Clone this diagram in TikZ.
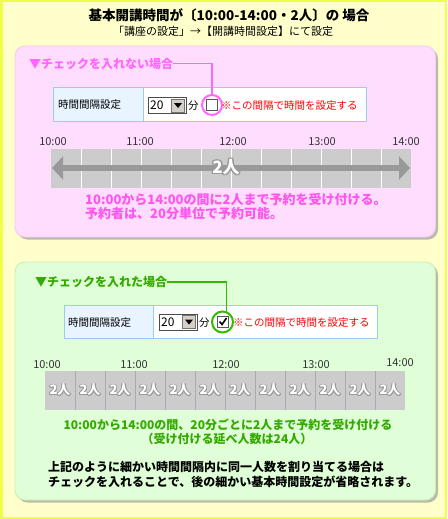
\documentclass[tikz,border=0pt]{standalone}
\usepackage{fontspec}
\setmainfont{Noto Sans CJK JP}
\usetikzlibrary{arrows.meta}
\definecolor{bgy}{HTML}{FFFFCC}
\definecolor{bdy}{HTML}{EEFF44}
\definecolor{pinkfill}{HTML}{FFDDFF}
\definecolor{pinkedge}{HTML}{F4C8F4}
\definecolor{pinkline}{HTML}{FF66FF}
\definecolor{pinktext}{HTML}{FF55EE}
\definecolor{greenfill}{HTML}{E0FFD8}
\definecolor{greenedge}{HTML}{C8EEB8}
\definecolor{greenline}{HTML}{33BB00}
\definecolor{greentext}{HTML}{33AA00}
\definecolor{shadowc}{HTML}{BBBBAA}
\definecolor{tblb}{HTML}{99CCEE}
\definecolor{tblcell}{HTML}{E8F4FF}
\definecolor{barg}{HTML}{CCCCCC}
\definecolor{arrg}{HTML}{999999}
\definecolor{olg}{HTML}{999999}
\definecolor{redt}{HTML}{FF0000}
\definecolor{btn}{HTML}{D4D0C8}
\definecolor{timec}{HTML}{333333}
\newcommand\olt[2][0.8pt]{\leavevmode
\rlap{\hspace*{-#1}\textcolor{olg}{#2}}%
\rlap{\hspace*{#1}\textcolor{olg}{#2}}%
\rlap{\raisebox{#1}{\textcolor{olg}{#2}}}%
\rlap{\raisebox{-#1}{\textcolor{olg}{#2}}}%
\rlap{\hspace*{-#1}\raisebox{#1}{\textcolor{olg}{#2}}}%
\rlap{\hspace*{#1}\raisebox{#1}{\textcolor{olg}{#2}}}%
\rlap{\hspace*{-#1}\raisebox{-#1}{\textcolor{olg}{#2}}}%
\rlap{\hspace*{#1}\raisebox{-#1}{\textcolor{olg}{#2}}}%
\textcolor{white}{#2}}
\begin{document}
\begin{tikzpicture}[x=1pt,y=-1pt,
  fs/.style={font=\fontsize{#1pt}{#1pt}\selectfont},
  txt/.style={inner sep=0pt},
  cellL/.style={draw=tblb, fill=tblcell, line width=0.8pt, inner sep=0pt},
  cellR/.style={draw=tblb, fill=white, line width=0.8pt, inner sep=0pt},
  ddbox/.style={draw=black!70, fill=white, line width=0.6pt, inner sep=0pt},
  btnbox/.style={draw=black!55, fill=btn, line width=0.5pt, inner sep=0pt, minimum width=13pt, minimum height=13pt},
  chk/.style={draw=black!65, fill=white, line width=0.8pt, inner sep=0pt, minimum width=11pt, minimum height=11pt},
  ring/.style={circle, line width=2pt, inner sep=0pt, minimum size=20pt},
  timel/.style={txt, fs=11, text=timec},
  redl/.style={txt, fs=10.5, text=redt, anchor=west},
]
\useasboundingbox (0,0) rectangle (447,519);
% background
\fill[bgy] (0,0) rectangle (447,519);
\draw[bdy, line width=2.5pt] (1.25,1.25) rectangle (445.75,517.75);
% title
\node[txt, font=\bfseries\fontsize{13.5pt}{14pt}\selectfont] (title) at (229,15) {基本開講時間が〔10:00-14:00・2人〕の 場合};
\node[txt, fs=11] (subtitle) at (223,31) {「講座の設定」→【開講時間設定】にて設定};

% ===== pink panel =====
\fill[shadowc, rounded corners=10pt] (17.5,48.5) rectangle (438,239.5);
\draw[pinkedge, fill=pinkfill, line width=0.8pt, rounded corners=10pt] (15,46) rectangle (435.5,237);
\node[txt, anchor=west, text=pinkline, font=\bfseries\fontsize{12pt}{12pt}\selectfont] (lab1) at (29,63.5) {▼チェックを入れない場合};
% table
\node[cellL, minimum width=90pt, minimum height=34pt] (t1l) at (98,104) {};
\node[cellR, minimum width=223pt, minimum height=34pt] (t1r) at (254.5,104) {};
\node[txt, fs=10.5, anchor=west] (t1lt) at (58,105) {時間間隔設定};
\node[ddbox, minimum width=38pt, minimum height=16pt] (dd1) at (167,105.5) {};
\node[txt, fs=12, anchor=west] (dd1t) at (150,105.5) {20};
\node[btnbox] (btn1) at (177.8,105.5) {};
\fill (174,103) -- (182,103) -- (178,108) -- cycle;
\node[txt, fs=10.5, anchor=west] (fun1) at (188,106) {分};
\node[chk] (cb1) at (212,105) {};
\node[ring, draw=pinkline] (circ1) at (212,105) {};
\node[redl] (red1) at (221,106) {※この間隔で時間を設定する};
\draw[pinkline, line width=1.8pt] (lab1.east) -| (circ1.north);
% timeline pink
\node[timel] (p10) at (53,142) {10:00};
\node[timel] (p11) at (140,142) {11:00};
\node[timel] (p12) at (233,142) {12:00};
\node[timel] (p13) at (322,142) {13:00};
\node[timel] (p14) at (406,142) {14:00};
\fill[barg] (51,149) rectangle (411,188);
\foreach \k in {1,...,11} { \draw[white, line width=0.8pt] (51+30*\k,149) -- (51+30*\k,188); }
\coordinate (pa) at (52,168);
\coordinate (pb) at (410,168);
\draw[arrg, line width=6.5pt, {Triangle[length=11pt,width=23pt]}-{Triangle[length=11pt,width=23pt]}] (pa) -- (pb);
\node[txt, font=\bfseries\fontsize{17pt}{17pt}\selectfont] (p2n) at (226,167) {\olt[1.2pt]{2人}};
\node[txt, anchor=west, text=pinktext, font=\bfseries\fontsize{13pt}{13pt}\selectfont] (pt1) at (85,199.5) {10:00から14:00の間に2人まで予約を受け付ける。};
\node[txt, anchor=west, text=pinktext, font=\bfseries\fontsize{13pt}{13pt}\selectfont] (pt2) at (85,214) {予約者は、20分単位で予約可能。};

% ===== green panel =====
\fill[shadowc, rounded corners=10pt] (17.5,264.5) rectangle (438,502.5);
\draw[greenedge, fill=greenfill, line width=0.8pt, rounded corners=10pt] (15,262) rectangle (435.5,500);
\node[txt, anchor=west, text=greentext, font=\bfseries\fontsize{12pt}{12pt}\selectfont] (lab2) at (35,282) {▼チェックを入れた場合};
\node[cellL, minimum width=89pt, minimum height=33pt] (t2l) at (108.5,321.5) {};
\node[cellR, minimum width=224pt, minimum height=33pt] (t2r) at (265,321.5) {};
\node[txt, fs=10.5, anchor=west] (t2lt) at (68,322.5) {時間間隔設定};
\node[ddbox, minimum width=38pt, minimum height=16pt] (dd2) at (178,322) {};
\node[txt, fs=12, anchor=west] (dd2t) at (161,322) {20};
\node[btnbox] (btn2) at (188.8,322) {};
\fill (185,319.5) -- (193,319.5) -- (189,324.5) -- cycle;
\node[txt, fs=10.5, anchor=west] (fun2) at (199,323) {分};
\node[chk] (cb2) at (223,322) {};
\draw[black, line width=1.6pt] (219.5,321.5) -- (222,324.5) -- (226.5,318);
\node[ring, draw=greenline, minimum size=21pt] (circ2) at (222.5,322) {};
\node[redl] (red2) at (233,323) {※この間隔で時間を設定する};
\draw[greenline, line width=1.8pt] (lab2.east) -| (circ2.70);
% timeline green
\node[timel] (g10) at (47,365) {10:00};
\node[timel] (g11) at (134,365) {11:00};
\node[timel] (g12) at (226,365) {12:00};
\node[timel] (g13) at (316,365) {13:00};
\node[timel] (g14) at (400,363) {14:00};
\fill[barg] (45,371) rectangle (405,410);
\foreach \k in {1,...,11} { \draw[black!33, line width=0.8pt] (45+30*\k,371) -- (45+30*\k,410); }
\foreach \k in {0,...,11} { \node[txt, font=\bfseries\fontsize{13pt}{13pt}\selectfont] (gc\k) at (60+30*\k,390) {\olt[0.8pt]{2人}}; }
\node[txt, text=greentext, font=\bfseries\fontsize{12pt}{13pt}\selectfont] (gt1) at (228,424.5) {10:00から14:00の間、20分ごとに2人まで予約を受け付ける};
\node[txt, text=greentext, font=\bfseries\fontsize{12pt}{13pt}\selectfont] (gt2) at (227,438.5) {（受け付ける延べ人数は24人）};
\node[txt, anchor=west, font=\bfseries\fontsize{12pt}{13pt}\selectfont] (bt1) at (48,467) {上記のように細かい時間間隔内に同一人数を割り当てる場合は};
\node[txt, anchor=west, font=\bfseries\fontsize{12pt}{13pt}\selectfont] (bt2) at (48,482) {チェックを入れることで、後の細かい基本時間設定が省略されます。};
\end{tikzpicture}
\end{document}
